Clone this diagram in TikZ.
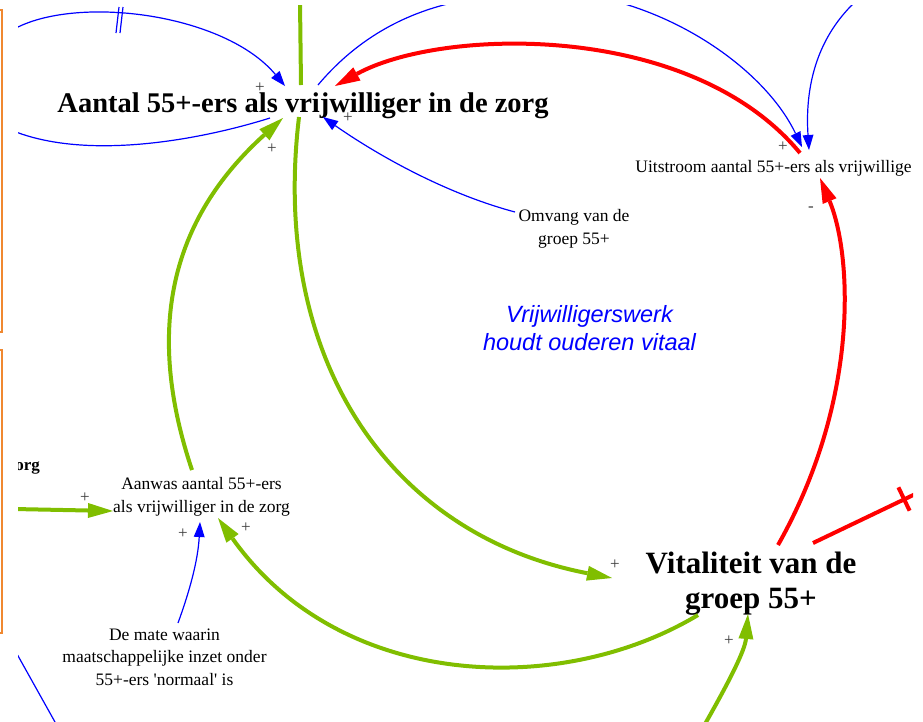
\documentclass[tikz,border=0pt]{standalone}
\usepackage{fontspec}
\setmainfont{Liberation Serif}
\newfontfamily\lsans{Liberation Sans}
\usetikzlibrary{arrows.meta}
\definecolor{vgreen}{RGB}{128,190,0}
\definecolor{vred}{RGB}{255,0,0}
\definecolor{vblue}{RGB}{0,0,255}
\definecolor{vorange}{RGB}{240,136,48}
\definecolor{polgray}{RGB}{60,60,60}
\begin{document}
\begin{tikzpicture}[x=1pt,y=-1pt,
  title/.style={font=\bfseries\fontsize{28.5}{33}\selectfont, inner sep=0pt, anchor=base},
  vtitle/.style={font=\bfseries\fontsize{31}{35}\selectfont, inner sep=0pt, anchor=base, align=center},
  var/.style={font=\fontsize{17.5}{22.5}\selectfont, inner sep=0pt, anchor=base, align=center},
  pol/.style={font=\fontsize{17}{20}\selectfont, text=polgray, inner sep=0pt, anchor=center},
  loopname/.style={font=\lsans\itshape\fontsize{23.5}{28}\selectfont, text=vblue, inner sep=0pt, anchor=base, align=center},
  orangebox/.style={draw=vorange, line width=1.5pt},
  gline/.style={draw=vgreen, line width=4pt},
  gflow/.style={gline, -{Triangle[length=25pt,width=15pt,line width=0pt]}},
  rline/.style={draw=vred, line width=4pt},
  rflow/.style={rline, -{Triangle[length=25pt,width=15pt,line width=0pt]}},
  bline/.style={draw=vblue, line width=1.2pt},
  bflow/.style={bline, -{Triangle[length=15pt,width=11pt,line width=0pt]}}]
\useasboundingbox (0,0) rectangle (923,721);
% orange frames at the left edge
\draw[orangebox] (0,10) -- (2,10) -- (2,332) -- (0,332);
\draw[orangebox] (0,350) -- (2,350) -- (2,633) -- (0,633);
\begin{scope}
\clip (18,5) rectangle (913,721);
% nodes (base = baseline of the last line)
\node[title] (main) at (303,112) {Aantal 55+-ers als vrijwilliger in de zorg};
\node[var] (uit) at (773.5,172) {Uitstroom aantal 55+-ers als vrijwillige};
\node[var] (omv) at (574,244) {Omvang van de\\groep 55+};
\node[var] (aan) at (201.5,512) {Aanwas aantal 55+-ers\\als vrijwilliger in de zorg};
\node[var] (mate) at (164.5,685) {De mate waarin\\maatschappelijke inzet onder\\55+-ers \textquotesingle normaal\textquotesingle{} is};
\node[vtitle] (vit) at (751,608) {Vitaliteit van de\\groep 55+};
\node[var, font=\bfseries\fontsize{17}{20}\selectfont, anchor=base east] (zorg) at (40,470) {zorg};
\node[loopname] (loop) at (589.5,350) {Vrijwilligerswerk\\houdt ouderen vitaal};
% free ends
\coordinate (fTL) at (16,28);
\coordinate (fL) at (16,132);
\coordinate (fTop) at (300,2);
\coordinate (fTR1) at (456,2);
\coordinate (fTR2) at (618,2);
\coordinate (fTR3) at (855,2);
\coordinate (fLG) at (14,509);
\coordinate (fR) at (930,487);
\coordinate (fB) at (705,724);
\coordinate (fBL1) at (17,654);
\coordinate (fBL2) at (55,722);
% connectors
\draw[bflow] (fTL) .. controls (80,-5) and (225,14) .. ([shift={(-18,-26)}]main.base);
\draw[bline] (116,33) -- (119,7);
\draw[bline] (120,33) -- (123,7);
\draw[bline] ([shift={(-33,6)}]main.base) .. controls (200,140) and (90,160) .. (fL);
\draw[gline] (fTop) -- ([shift={(-2,-27)}]main.base);
\draw[gflow] ([shift={(-4,5)}]main.base) .. controls (270,360) and (390,535) .. ([shift={(-139,-30)}]vit.base);
\draw[gflow] ([shift={(-9.5,-42)}]aan.base) .. controls (145,330) and (170,220) .. ([shift={(-20,6)}]main.base);
\draw[rflow] ([shift={(26.5,-19)}]uit.base) .. controls (690,20) and (440,28) .. ([shift={(32,-26)}]main.base);
\draw[bline] ([shift={(15,-27)}]main.base) .. controls (360,35) and (410,12) .. (fTR1);
\draw[bflow] ([shift={(-59,-32)}]omv.base) .. controls (440,192) and (370,150) .. ([shift={(20,5)}]main.base);
\draw[bflow] (fTR2) .. controls (700,25) and (770,80) .. ([shift={(28.5,-25)}]uit.base);
\draw[bflow] (fTR3) .. controls (815,40) and (805,90) .. ([shift={(35.5,-22)}]uit.base);
\draw[rflow] ([shift={(27,-63)}]vit.base) .. controls (860,400) and (852,255) .. ([shift={(46.5,6)}]uit.base);
\draw[rline] ([shift={(62,-65)}]vit.base) -- (fR);
\draw[rline] (898.4,487.3) -- (909.6,510.7);
\draw[gflow] (fLG) -- ([shift={(-88.5,-1)}]aan.base);
\draw[bflow] ([shift={(13.5,-62)}]mate.base) .. controls (190,590) and (198,560) .. ([shift={(-1.5,10)}]aan.base);
\draw[gflow] ([shift={(-53,7)}]vit.base) .. controls (560,698) and (340,690) .. ([shift={(16.5,6)}]aan.base);
\draw[gflow] (fB) .. controls (730,680) and (745,650) .. ([shift={(-3,6)}]vit.base);
\draw[bline] (fBL1) -- (fBL2);
% polarities
\node[pol] (p1) at (260,88) {+};
\node[pol] (p2) at (272,149) {+};
\node[pol] (p3) at (348,118) {+};
\node[pol] (p4) at (783,147) {+};
\node[pol] (p5) at (811,209) {-};
\node[pol] (p6) at (85,498) {+};
\node[pol] (p7) at (183,534) {+};
\node[pol] (p8) at (246,528) {+};
\node[pol] (p9) at (615,565) {+};
\node[pol] (p10) at (729,641) {+};
\end{scope}
\end{tikzpicture}
\end{document}
